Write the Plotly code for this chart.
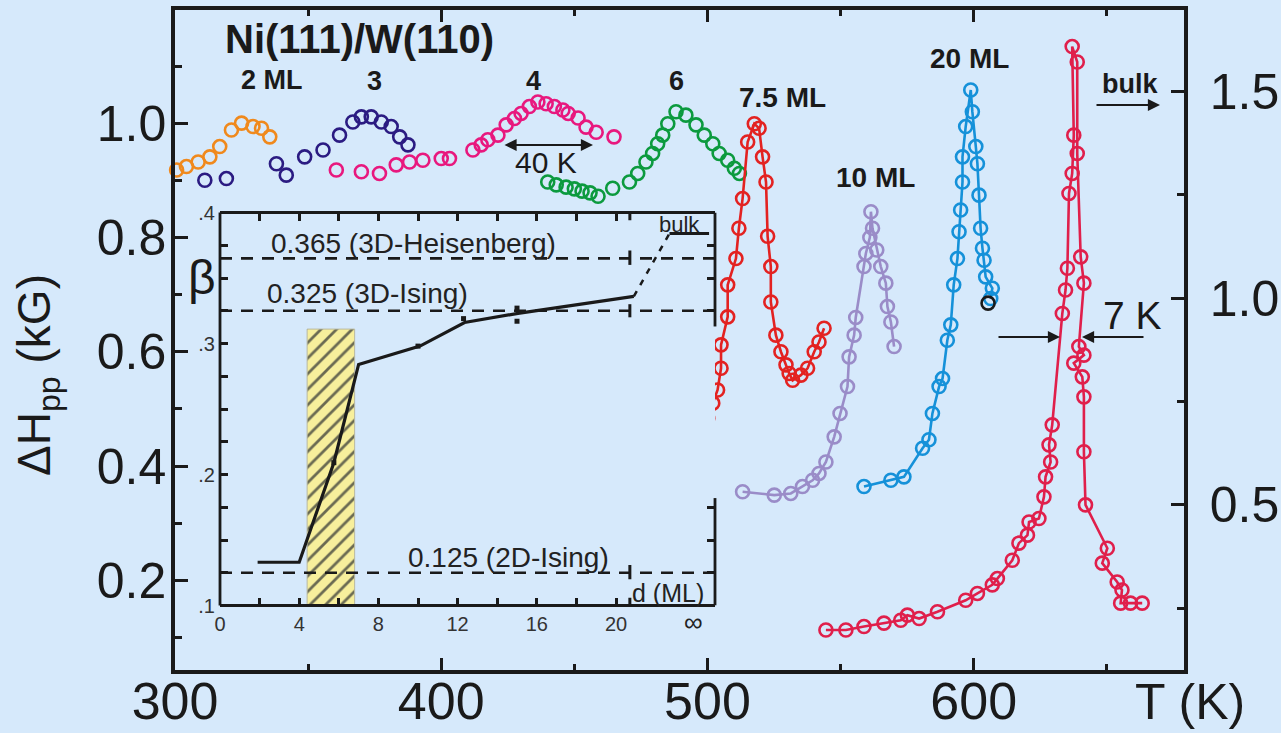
import plotly.graph_objects as go

BG = '#d6e9fb'
INK = '#1a1a1a'
FONT = 'Liberation Sans, Arial, sans-serif'

# ---------------- main panel data: T (K) vs dHpp (kG) ----------------
t_2ml = [300.6, 304.3, 308.7, 313.1, 316.8, 321.2, 325.0, 329.3, 332.5, 335.6]
h_2ml = [0.918, 0.924, 0.932, 0.941, 0.959, 0.988, 1.000, 0.994, 0.991, 0.976]

t_3ml = [311.2, 319.3, 338.1, 341.8, 348.7, 355.6, 361.8, 366.8, 370.0, 373.7, 377.5, 381.2, 384.4, 387.5]
h_3ml = [0.900, 0.903, 0.929, 0.909, 0.941, 0.953, 0.979, 1.002, 1.011, 1.011, 1.002, 0.994, 0.976, 0.962]

t_4ml = [360.6, 370.0, 376.8, 383.1, 388.1, 393.1, 400.0, 403.1, 411.9, 415.0, 417.5, 421.3, 424.4,
         427.5, 430.0, 433.1, 436.3, 439.4, 442.5, 445.7, 447.7, 451.4, 454.4, 458.2, 464.9]
h_4ml = [0.918, 0.915, 0.912, 0.927, 0.932, 0.935, 0.938, 0.938, 0.953, 0.962, 0.971, 0.979, 0.997,
         1.008, 1.017, 1.029, 1.037, 1.034, 1.029, 1.023, 1.017, 1.009, 0.993, 0.984, 0.976]

t_6ml = [440.0, 443.2, 446.9, 450.0, 452.9, 455.9, 458.9, 464.4, 470.7, 473.8, 476.9, 479.4, 481.3,
         483.2, 485.1, 488.2, 491.9, 495.7, 498.8, 502.0, 504.4, 507.6, 510.1, 512.0]
h_6ml = [0.897, 0.892, 0.888, 0.885, 0.881, 0.878, 0.872, 0.886, 0.897, 0.912, 0.932, 0.947, 0.964,
         0.979, 0.999, 1.020, 1.014, 0.997, 0.979, 0.964, 0.947, 0.935, 0.921, 0.912]

t_75ml = [482.6, 488.8, 491.9, 493.2, 497.6, 500.1, 502.0, 503.8, 505.1, 505.1, 507.6, 507.6, 510.7,
          511.8, 513.2, 515.1, 517.6, 519.4, 520.7, 522.0, 522.6, 523.8, 523.8, 525.7, 527.6, 529.5,
          530.7, 532.0, 535.1, 537.6, 540.1, 541.9, 543.8]
h_75ml = [0.407, 0.422, 0.431, 0.440, 0.463, 0.483, 0.510, 0.533, 0.571, 0.612, 0.661, 0.717, 0.763,
          0.816, 0.868, 0.967, 0.999, 0.991, 0.941, 0.897, 0.802, 0.749, 0.687, 0.629, 0.600, 0.577,
          0.562, 0.550, 0.559, 0.571, 0.600, 0.617, 0.641]

t_10ml = [513.2, 525.1, 531.3, 535.7, 539.5, 541.9, 544.5, 547.6, 549.8, 552.6, 553.2, 555.1, 555.7,
          558.8, 559.5, 561.0, 561.4, 562.0, 563.6, 565.1, 567.0, 567.6, 568.9, 570.1]
h_10ml = [0.355, 0.349, 0.352, 0.364, 0.375, 0.387, 0.407, 0.451, 0.492, 0.539, 0.591, 0.629, 0.660,
          0.749, 0.772, 0.800, 0.845, 0.816, 0.778, 0.749, 0.720, 0.679, 0.652, 0.609]

t_20ml = [558.8, 568.9, 573.8, 580.8, 583.2, 584.5, 587.0, 588.3, 590.1, 591.4, 592.5, 593.9, 594.5,
          595.1, 595.8, 595.8, 597.0, 598.9, 599.5, 600.8, 601.4, 602.0, 602.6, 603.3, 603.9, 604.5,
          607.0, 606.4]
h_20ml = [0.364, 0.375, 0.381, 0.431, 0.446, 0.492, 0.539, 0.553, 0.620, 0.647, 0.717, 0.763, 0.810,
          0.848, 0.897, 0.941, 0.994, 1.058, 1.020, 0.959, 0.929, 0.874, 0.816, 0.781, 0.760, 0.731,
          0.711, 0.693]
t_stray = [605.4]
h_stray = [0.685]

t_bulk = [544.5, 552.0, 558.8, 566.3, 572.6, 575.1, 579.5, 586.4, 597.0, 601.4, 607.0, 608.9, 614.5,
          617.0, 620.2, 620.8, 624.5, 626.4, 627.0, 628.9, 628.3, 629.5, 633.3, 634.5, 635.2, 635.8,
          637.0, 637.6, 637.0, 638.9, 638.9, 640.2, 641.4, 639.5, 641.4, 637.6, 640.8, 641.4, 641.4,
          642.0, 650.2, 648.3, 653.9, 655.7, 655.2, 658.9, 663.3]
h_bulk = [0.113, 0.113, 0.119, 0.125, 0.130, 0.139, 0.133, 0.145, 0.165, 0.177, 0.192, 0.203, 0.235,
          0.265, 0.279, 0.302, 0.308, 0.346, 0.381, 0.407, 0.437, 0.472, 0.667, 0.708, 0.746, 0.877,
          0.912, 0.979, 1.134, 1.107, 0.947, 0.766, 0.720, 0.609, 0.594, 0.580, 0.556, 0.521, 0.425,
          0.332, 0.256, 0.230, 0.197, 0.183, 0.160, 0.160, 0.160]

series = [
    (t_2ml, h_2ml, '#f0891c', False),
    (t_3ml, h_3ml, '#2b1b82', False),
    (t_4ml, h_4ml, '#e8187e', False),
    (t_6ml, h_6ml, '#0c9a3e', False),
    (t_75ml, h_75ml, '#e32221', True),
    (t_10ml, h_10ml, '#9a8cc8', True),
    (t_20ml, h_20ml, '#1591d9', True),
    (t_bulk, h_bulk, '#e01f4b', True),
    (t_stray, h_stray, '#1a1a1a', False),
]

# ---------------- inset data: beta vs d (ML) ----------------
d_line = [1.9, 4.0, 5.75, 7.0, 10.1, 12.35, 15.05, 20.9]
b_line = [0.133, 0.133, 0.209, 0.284, 0.298, 0.316, 0.323, 0.336]
d_pts = [5.75, 10.0, 12.3, 15.0, 15.0]
b_pts = [0.209, 0.298, 0.319, 0.327, 0.317]
d_ext = [20.9, 22.7]
b_ext = [0.336, 0.384]
d_bulkline = [22.7, 24.7]
b_bulkline = [0.384, 0.384]
band_d = [4.4, 6.8]
band_top = 0.311
ref_levels = [0.365, 0.325, 0.125]
ref_labels = ['0.365 (3D-Heisenberg)', '0.325 (3D-Ising)', '0.125 (2D-Ising)']
d_break = 20.7

# axis tick definitions
x_major = [300, 400, 500, 600]
x_minor = [350, 450, 550, 650]
yl_major = [0.2, 0.4, 0.6, 0.8, 1.0]
yl_minor = [0.1, 0.3, 0.5, 0.7, 0.9, 1.1]
yr_major = [0.5, 1.0, 1.5]
yr_minor = [0.25, 0.75, 1.25]
ins_x_ticks = [0, 2, 4, 6, 8, 10, 12, 14, 16, 18, 20]
ins_x_text = ['0', '', '4', '', '8', '', '12', '', '16', '', '20']
ins_y_ticks = [0.1, 0.125, 0.15, 0.175, 0.2, 0.225, 0.25, 0.275, 0.3, 0.325, 0.35, 0.375, 0.4]
ins_y_text = ['.1', '', '', '', '.2', '', '', '', '.3', '', '', '', '.4']
ins_y_right = [0.125, 0.15, 0.175, 0.325, 0.35, 0.375]

# ---------------- geometry (pixels) ----------------
W, H = 1281, 733
L, R, T, B = 175, 1184, 10, 670
IN_L, IN_R, IN_T, IN_B = 220, 715, 212.5, 605.5


def px(x):
    return (x - L) / (R - L)


def py(y):
    return (B - y) / (B - T)


fig = go.Figure()

for t, h, col, joined in series:
    fig.add_trace(go.Scatter(
        x=t, y=h, mode='lines+markers' if joined else 'markers',
        marker=dict(symbol='circle-open', size=13, color=col, line=dict(width=2.6, color=col)),
        line=dict(color=col, width=2.6), cliponaxis=False, showlegend=False, hoverinfo='skip'))

# dummy traces so the auxiliary axes are drawn
fig.add_trace(go.Scatter(x=[None], y=[None], yaxis='y2', showlegend=False, hoverinfo='skip'))
fig.add_trace(go.Scatter(x=[None], y=[None], xaxis='x3', yaxis='y3', showlegend=False, hoverinfo='skip'))
fig.add_trace(go.Scatter(x=[None], y=[None], xaxis='x2', yaxis='y4', showlegend=False, hoverinfo='skip'))

# inset: hatched band
fig.add_trace(go.Scatter(
    x=[band_d[0], band_d[1], band_d[1], band_d[0], band_d[0]],
    y=[0.1, 0.1, band_top, band_top, 0.1],
    xaxis='x2', yaxis='y3', mode='lines', fill='toself',
    fillcolor='#f7ef9c',
    fillpattern=dict(shape='/', fgcolor='#6a6a52', bgcolor='#f7ef9c', size=11, solidity=0.25),
    line=dict(color='#b9b9a0', width=1), showlegend=False, hoverinfo='skip'))

# inset curve
fig.add_trace(go.Scatter(x=d_line, y=b_line, xaxis='x2', yaxis='y3', mode='lines',
                         line=dict(color=INK, width=3.2), showlegend=False, hoverinfo='skip'))
fig.add_trace(go.Scatter(x=d_ext, y=b_ext, xaxis='x2', yaxis='y3', mode='lines',
                         line=dict(color=INK, width=2.5, dash='6px,7px'), showlegend=False, hoverinfo='skip'))
fig.add_trace(go.Scatter(x=d_bulkline, y=b_bulkline, xaxis='x2', yaxis='y3', mode='lines',
                         line=dict(color=INK, width=3), showlegend=False, hoverinfo='skip'))
fig.add_trace(go.Scatter(x=d_pts, y=b_pts, xaxis='x2', yaxis='y3', mode='markers',
                         marker=dict(symbol='square', size=5, color=INK), showlegend=False, hoverinfo='skip'))

shapes = []
# inset reference dashed lines
for lv in ref_levels:
    shapes.append(dict(type='line', xref='x2 domain', yref='y3', x0=0, x1=1, y0=lv, y1=lv,
                       line=dict(color=INK, width=2.6, dash='12px,9px')))
# inset frame (right side open in the middle)
fr = dict(color=INK, width=2.8)
shapes += [
    dict(type='line', xref='x2 domain', yref='y3 domain', x0=0, x1=1, y0=1, y1=1, line=fr),
    dict(type='line', xref='x2 domain', yref='y3 domain', x0=0, x1=1, y0=0, y1=0, line=fr),
    dict(type='line', xref='x2 domain', yref='y3 domain', x0=0, x1=0, y0=0, y1=1, line=fr),
    dict(type='line', xref='x2 domain', yref='y3', x0=1, x1=1, y0=0.313, y1=0.4, line=fr),
    dict(type='line', xref='x2 domain', yref='y3', x0=1, x1=1, y0=0.1, y1=0.182, line=fr),
]
# axis-break marks at d ~ 21
for y0, y1 in [(0.394, 0.4), (0.360, 0.371), (0.320, 0.330), (0.120, 0.131), (0.1, 0.106)]:
    shapes.append(dict(type='line', xref='x2', yref='y3', x0=d_break, x1=d_break, y0=y0, y1=y1,
                       line=dict(color=INK, width=3)))

ann = []


def text(x, y, s, size, bold=False, color=INK, **kw):
    d = dict(x=px(x), y=py(y), xref='paper', yref='paper', text=s, showarrow=False,
             font=dict(family=FONT, size=size, color=color, weight='bold' if bold else 'normal'),
             xanchor='center', yanchor='middle')
    d.update(kw)
    ann.append(d)


def arrow(hx, hy, tx, ty, both=False):
    ann.append(dict(x=px(hx), y=py(hy), xref='paper', yref='paper', text='', showarrow=True,
                    ax=tx - hx, ay=ty - hy, arrowhead=2, arrowsize=1.1, arrowwidth=2.2,
                    arrowcolor=INK, standoff=0, startstandoff=0,
                    arrowside='end+start' if both else 'end', startarrowhead=2, startarrowsize=1.1))


text(359, 39, 'Ni(111)/W(110)', 40, bold=True)
text(272, 80, '2 ML', 27, bold=True)
text(374, 81, '3', 27, bold=True)
text(533, 81, '4', 27, bold=True)
text(676, 81, '6', 27, bold=True)
text(782, 97, '7.5 ML', 28, bold=True)
text(875, 177, '10 ML', 28, bold=True)
text(969, 59, '20 ML', 28, bold=True)
text(1130, 84, 'bulk', 27, bold=True)
text(546, 162, '40 K', 30)
text(1132, 315, '7 K', 39)
text(1190, 702, 'T (K)', 50)
text(38, 375, 'ΔH<sub>pp</sub> (kG)', 46, textangle=-90)
arrow(593, 145, 503, 145, both=True)
arrow(1160, 105, 1095, 105)
arrow(1060, 337, 997, 337)
arrow(1082, 337, 1145, 337)

# inset texts
text(413, 243, ref_labels[0], 28, color='#222')
text(367, 293, ref_labels[1], 28, color='#222')
text(508, 557, ref_labels[2], 28, color='#222')
text(668, 593, 'd (ML)', 25, color='#222')
text(679, 224, 'bulk', 22, color='#222')
text(202, 278, 'β', 48)
text(693, 622, '∞', 26, color='#222')

axis_common = dict(showgrid=False, zeroline=False, linecolor=INK, tickcolor=INK, automargin=False)

fig.update_layout(
    template='none',
    width=W, height=H, autosize=False,
    margin=dict(l=L, r=W - R, t=T, b=H - B, pad=0, autoexpand=False),
    paper_bgcolor=BG, plot_bgcolor=BG,
    font=dict(family=FONT, color=INK),
    showlegend=False,
    xaxis=dict(domain=[0, 1], range=[300, 679], tickvals=x_major, ticks='inside', ticklen=12,
               tickwidth=3, showline=True, linewidth=3.5, mirror='ticks', ticklabelstandoff=-17,
               tickfont=dict(size=52, color=INK),
               minor=dict(tickvals=x_minor, ticks='inside', ticklen=6, tickwidth=3, tickcolor=INK),
               **axis_common),
    yaxis=dict(domain=[0, 1], range=[0.043, 1.198], tickvals=yl_major,
               ticktext=['0.2', '0.4', '0.6', '0.8', '1.0'], ticks='inside', ticklen=13, tickwidth=3,
               showline=True, linewidth=3.5, ticklabelstandoff=-5, tickfont=dict(size=50, color=INK),
               minor=dict(tickvals=yl_minor, ticks='inside', ticklen=7, tickwidth=3, tickcolor=INK),
               **axis_common),
    yaxis2=dict(overlaying='y', side='right', range=[0.101, 1.696], tickvals=yr_major,
                ticktext=['0.5', '1.0', '1.5'], ticks='inside', ticklen=13, tickwidth=3,
                showline=True, linewidth=3.5, ticklabelstandoff=12, tickfont=dict(size=50, color=INK),
                minor=dict(tickvals=yr_minor, ticks='inside', ticklen=7, tickwidth=3, tickcolor=INK),
                **axis_common),
    xaxis2=dict(domain=[px(IN_L), px(IN_R)], anchor='y3', range=[0, 25], tickvals=ins_x_ticks,
                ticktext=ins_x_text, ticks='inside', ticklen=8, tickwidth=2.5, showline=False,
                ticklabelstandoff=4, tickfont=dict(size=20, color='#333'), **axis_common),
    xaxis3=dict(overlaying='x2', anchor='y3', side='top', range=[0, 25], tickvals=ins_x_ticks[1:],
                ticks='inside', ticklen=8, tickwidth=2.5, showline=False, showticklabels=False,
                **axis_common),
    yaxis3=dict(domain=[py(IN_B), py(IN_T)], anchor='x2', range=[0.1, 0.4], tickvals=ins_y_ticks,
                ticktext=ins_y_text, ticks='inside', ticklen=8, tickwidth=2.5, showline=False,
                ticklabelstandoff=4, tickfont=dict(size=20, color='#333'), **axis_common),
    yaxis4=dict(overlaying='y3', anchor='x2', side='right', range=[0.1, 0.4], tickvals=ins_y_right,
                ticks='inside', ticklen=8, tickwidth=2.5, showline=False, showticklabels=False,
                **axis_common),
    shapes=shapes,
    annotations=ann,
)

fig.write_html('out.html', config=dict(displayModeBar=False))
